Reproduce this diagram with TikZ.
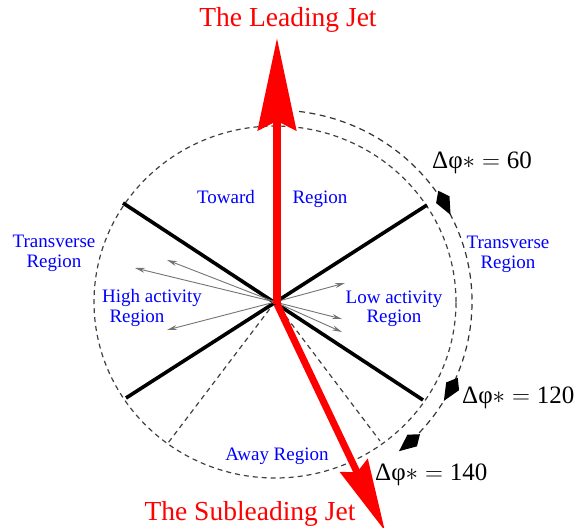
\documentclass[tikz,border=0pt]{standalone}
\usepackage{fontspec}
\setmainfont{Liberation Serif}
\usetikzlibrary{arrows.meta}
\definecolor{jetred}{RGB}{255,0,0}
\definecolor{regblue}{RGB}{0,0,255}
\begin{document}
\begin{tikzpicture}[x=1pt,y=1pt,
  circdash/.style={draw=black!75, line width=1.2pt, dash pattern=on 5pt off 4pt},
  arcdash/.style={draw=black!80, line width=1.2pt, dash pattern=on 6pt off 4.5pt},
  sepline/.style={draw=black, line width=3.6pt},
  track/.style={draw=black!55, line width=0.9pt, -{Stealth[length=10pt,width=5pt]}},
  kite/.style={fill=black},
  jetlead/.style={draw=jetred, line width=8pt, -{Stealth[length=92pt,width=38pt,inset=9pt]}},
  jetsub/.style={draw=jetred, line width=7pt, -{Stealth[length=72pt,width=30pt,inset=7pt]}},
  title/.style={text=jetred, font=\fontsize{27.5}{30}\selectfont, inner sep=0pt, anchor=base},
  reg/.style={text=regblue, font=\fontsize{19}{20}\selectfont, inner sep=0pt, anchor=base},
  dphi/.style={text=black, font=\fontsize{25}{28}\selectfont, inner sep=0pt, anchor=base west}]
\useasboundingbox (0,0) rectangle (583,-527);
\clip (0,0) rectangle (583,-527);

\coordinate (C) at (275,-302);
\coordinate (J) at (277,-304);

% inner dashed circle
\draw[circdash] (C) ellipse[x radius=181, y radius=176];

% away-region dashed boundaries
\coordinate (al) at (168,-443);
\coordinate (ar) at (380,-441);
\draw[circdash] (C) -- (al);
\draw[circdash] (C) -- (ar);

% region separators
\coordinate (ul) at (123,-203);
\coordinate (ur) at (427,-205);
\coordinate (ll) at (126,-398);
\coordinate (lr) at (423,-400);
\draw[sepline] (ul) -- (lr);
\draw[sepline] (ur) -- (ll);

% outer dashed arc
\draw[arcdash] (C) ++(83:197 and 192) arc[start angle=83, end angle=-50, x radius=197, y radius=192];
% kite markers on the arc, pointing clockwise
\begin{scope}[shift={(C)}]
\foreach \a in {27,-31,-51}
  \fill[kite, shift={(\a:197 and 192)}, rotate=\a-90]
    (0,0) -- (-17,7.5) -- (-27,0) -- (-17,-7.5) -- cycle;
\end{scope}

% tracks
\coordinate (t1) at (167,-260);
\coordinate (t2) at (135,-268);
\coordinate (t3) at (167,-330);
\coordinate (t4) at (345,-283);
\coordinate (t5) at (342,-319);
\coordinate (t6) at (342,-332);
\foreach \t in {t1,t2,t3,t4,t5,t6} \draw[track] (C) -- (\t);

% jets
\coordinate (lead) at (277,-38);
\coordinate (sub) at (385,-531);
\draw[jetlead] (J) -- (lead);
\draw[jetsub] (J) -- (sub);

% titles
\node[title] (tlead) at (288,-27) {The Leading Jet};
\node[title] (tsub) at (250,-520) {The Subleading Jet};

% region labels
\node[reg] (tow) at (226,-203) {Toward};
\node[reg] (towr) at (320,-203) {Region};
\node[reg] (trl1) at (54,-247) {Transverse};
\node[reg] (trl2) at (54,-267) {Region};
\node[reg] (trr1) at (508,-248) {Transverse};
\node[reg] (trr2) at (508,-268) {Region};
\node[reg] (hi1) at (152,-302) {High activity};
\node[reg] (hi2) at (137,-322) {Region};
\node[reg] (lo1) at (394,-303) {Low activity};
\node[reg] (lo2) at (394,-322) {Region};
\node[reg] (away) at (277,-460) {Away Region};

% delta phi labels
\node[dphi] (d60) at (432,-168) {$\mbox{Δφ}{\ast}=\mbox{60}$};
\node[dphi] (d120) at (462,-403) {$\mbox{Δφ}{\ast}=\mbox{120}$};
\node[dphi] (d140) at (375,-480) {$\mbox{Δφ}{\ast}=\mbox{140}$};
\end{tikzpicture}
\end{document}
